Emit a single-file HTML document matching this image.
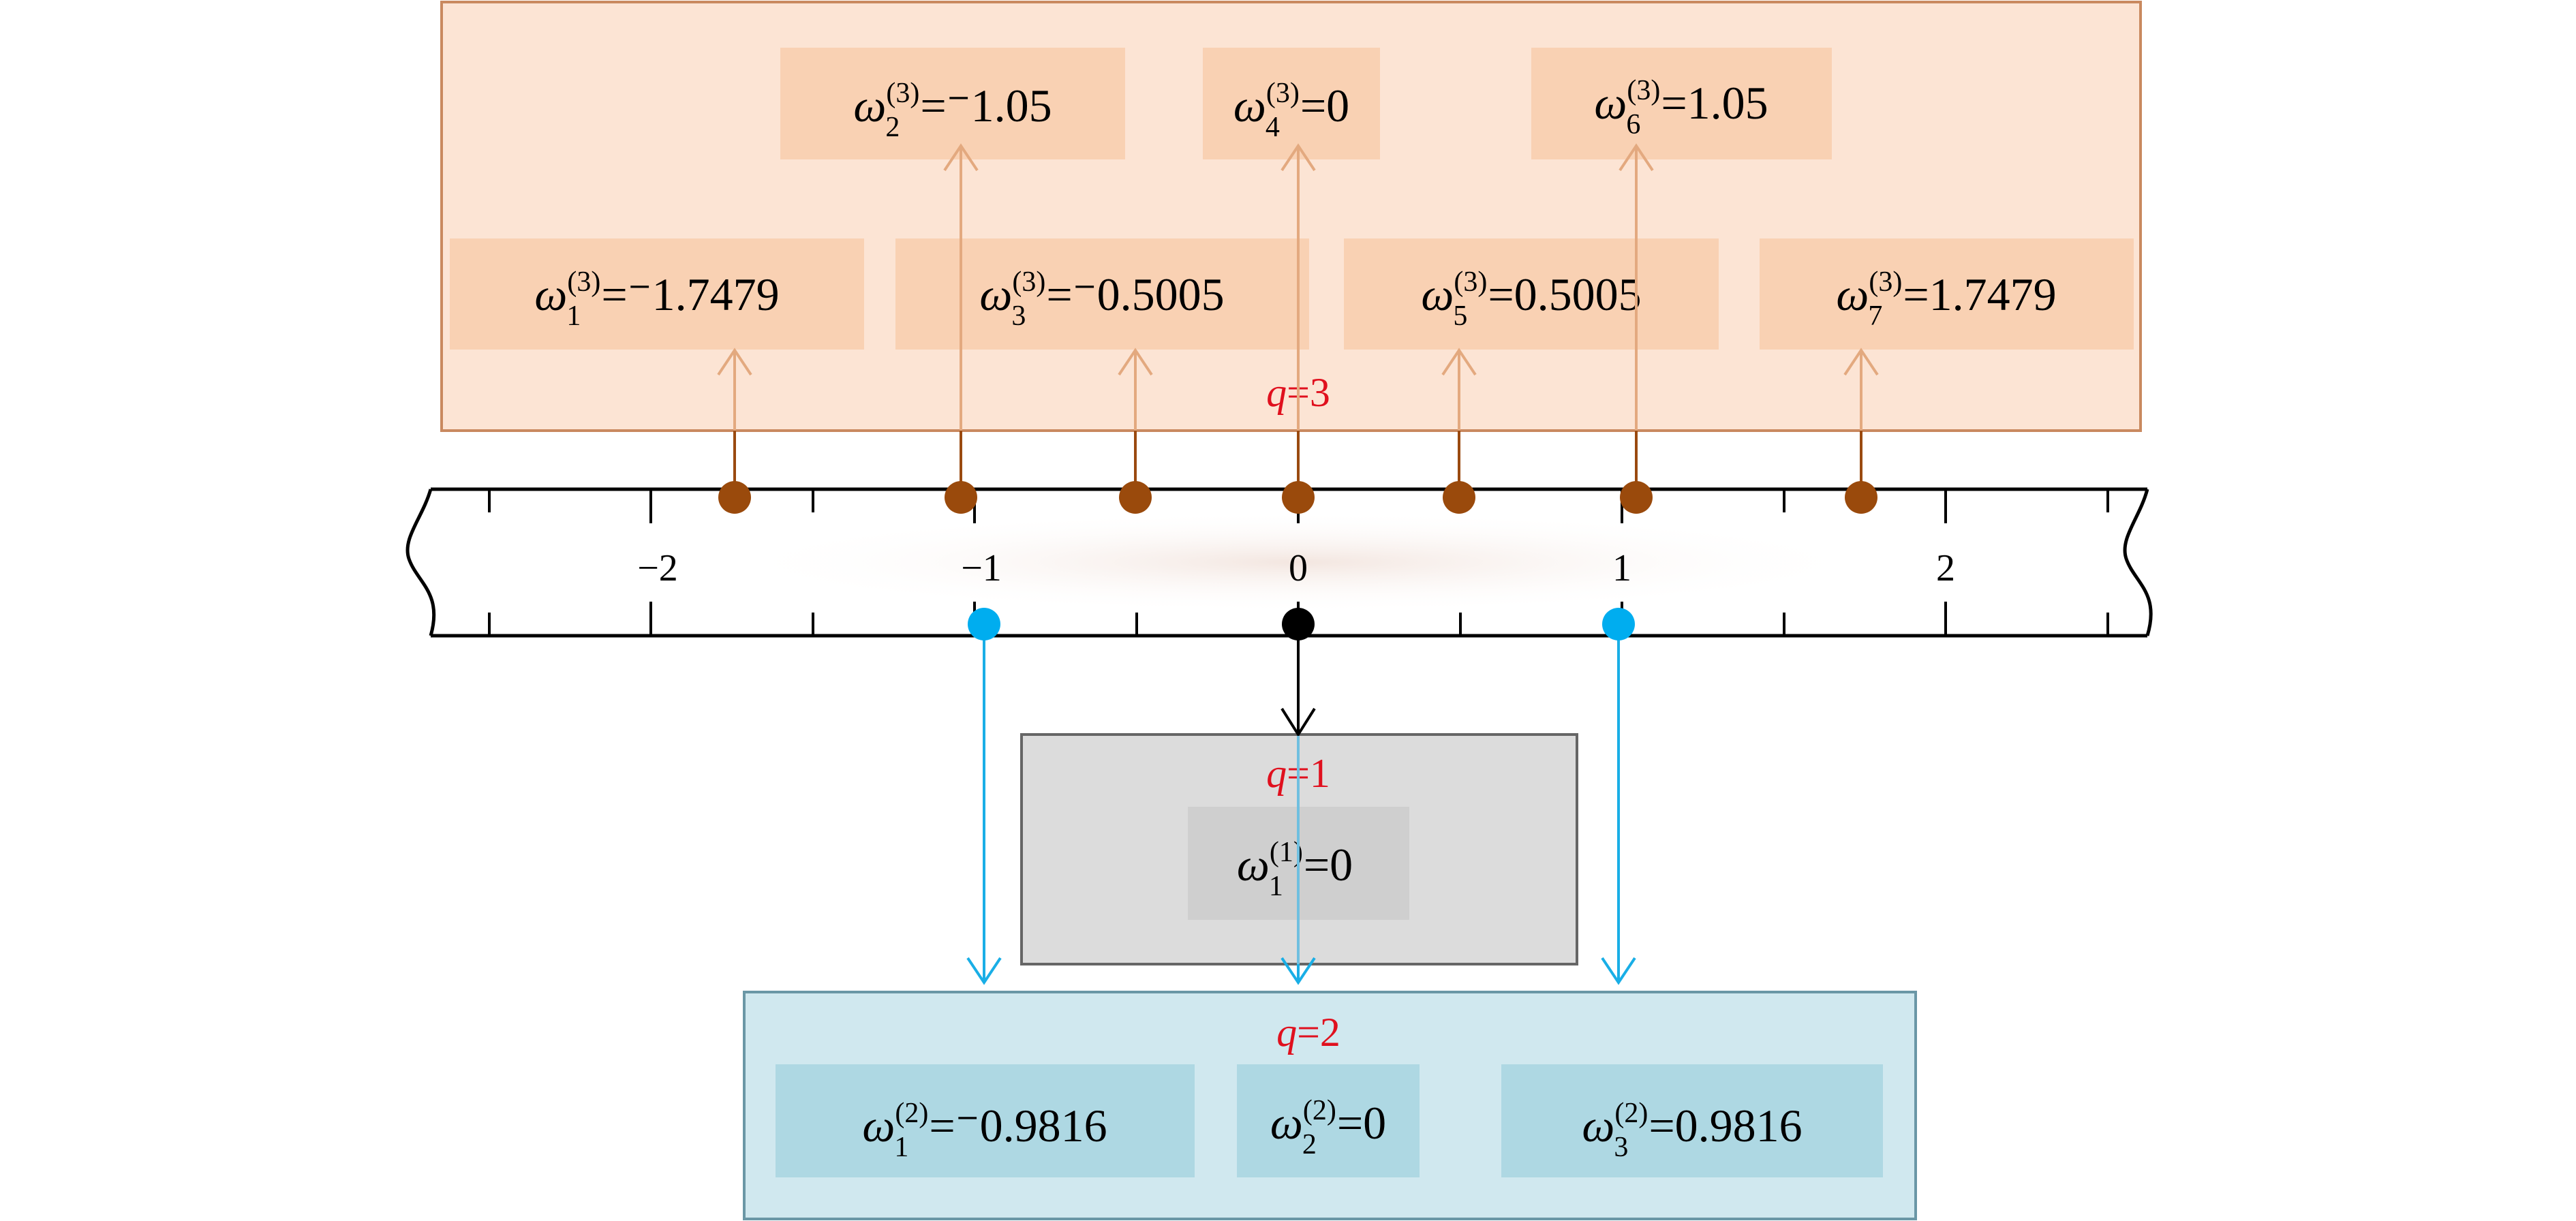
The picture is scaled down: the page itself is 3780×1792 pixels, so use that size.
<!DOCTYPE html>
<html><head><meta charset="utf-8"><style>html,body{margin:0;padding:0;background:#fff}svg{display:block}text{font-family:"Liberation Serif",serif}</style></head><body>
<svg width="3780" height="1792" viewBox="0 0 3780 1792" xmlns="http://www.w3.org/2000/svg">
<defs>
<radialGradient id="sh" cx="0.5" cy="0.5" r="0.5"><stop offset="0" stop-color="#f3e6e0"/><stop offset="1" stop-color="#fff" stop-opacity="0"/></radialGradient>
</defs>
<rect x="648" y="3" width="2493" height="629" fill="#fce4d4" stroke="#c9895f" stroke-width="4"/>
<g fill="#f9d1b3">
<rect x="1145" y="70" width="506" height="164"/><rect x="1765" y="70" width="260" height="164"/><rect x="2247" y="70" width="441" height="164"/>
<rect x="660" y="350" width="608" height="163"/><rect x="1314" y="350" width="607" height="163"/><rect x="1972" y="350" width="550" height="163"/><rect x="2582" y="350" width="549" height="163"/>
</g>
<g font-size="68" text-anchor="middle" fill="#000">
<text x="1398" y="178"><tspan font-style="italic">ω</tspan><tspan font-size="42" dy="-28">(3)</tspan><tspan font-size="42" dx="-50" dy="50">2</tspan><tspan dy="-22" dx="30">=⁻1.05</tspan></text>
<text x="1895" y="178"><tspan font-style="italic">ω</tspan><tspan font-size="42" dy="-28">(3)</tspan><tspan font-size="42" dx="-50" dy="50">4</tspan><tspan dy="-22" dx="30">=0</tspan></text>
<text x="2467" y="174"><tspan font-style="italic">ω</tspan><tspan font-size="42" dy="-28">(3)</tspan><tspan font-size="42" dx="-50" dy="50">6</tspan><tspan dy="-22" dx="30">=1.05</tspan></text>
<text x="964" y="455"><tspan font-style="italic">ω</tspan><tspan font-size="42" dy="-28">(3)</tspan><tspan font-size="42" dx="-50" dy="50">1</tspan><tspan dy="-22" dx="30">=⁻1.7479</tspan></text>
<text x="1617" y="455"><tspan font-style="italic">ω</tspan><tspan font-size="42" dy="-28">(3)</tspan><tspan font-size="42" dx="-50" dy="50">3</tspan><tspan dy="-22" dx="30">=⁻0.5005</tspan></text>
<text x="2247" y="455"><tspan font-style="italic">ω</tspan><tspan font-size="42" dy="-28">(3)</tspan><tspan font-size="42" dx="-50" dy="50">5</tspan><tspan dy="-22" dx="30">=0.5005</tspan></text>
<text x="2856" y="455"><tspan font-style="italic">ω</tspan><tspan font-size="42" dy="-28">(3)</tspan><tspan font-size="42" dx="-50" dy="50">7</tspan><tspan dy="-22" dx="30">=1.7479</tspan></text>
</g>
<text x="1905" y="596" font-size="60" fill="#e0101e" text-anchor="middle"><tspan font-style="italic">q</tspan>=3</text>
<g stroke="#9a4a10" stroke-width="4" fill="none">
<line x1="1078" y1="632" x2="1078" y2="730"/><line x1="1410" y1="632" x2="1410" y2="730"/><line x1="1666" y1="632" x2="1666" y2="730"/><line x1="1905" y1="632" x2="1905" y2="730"/><line x1="2141" y1="632" x2="2141" y2="730"/><line x1="2401" y1="632" x2="2401" y2="730"/><line x1="2731" y1="632" x2="2731" y2="730"/>
</g>
<g stroke="#e3a97f" stroke-width="4" fill="none">
<path d="M1078 632V514M1054 550L1078 514L1102 550"/>
<path d="M1666 632V514M1642 550L1666 514L1690 550"/>
<path d="M2141 632V514M2117 550L2141 514L2165 550"/>
<path d="M2731 632V514M2707 550L2731 514L2755 550"/>
<path d="M1410 632V216M1386 250L1410 214L1434 250"/>
<path d="M1905 632V216M1881 250L1905 214L1929 250"/>
<path d="M2401 632V216M2377 250L2401 214L2425 250"/>
</g>
<ellipse cx="1905" cy="825" rx="850" ry="75" fill="url(#sh)"/>
<g stroke="#000" stroke-width="5" fill="none">
<line x1="632" y1="718" x2="3151" y2="718"/><line x1="632" y1="933" x2="3151" y2="933"/>
<path d="M632 718 C620 760,590 790,600 820 C612 855,650 870,632 933"/>
<path d="M3151 718 C3140 760,3110 790,3120 820 C3132 855,3170 870,3151 933"/>
</g>
<g stroke="#000" stroke-width="4">
<path d="M955 718v50M1430 718v50M1905 718v50M2380 718v50M2855 718v50M955 933v-50M1430 933v-50M1905 933v-50M2380 933v-50M2855 933v-50"/>
<path d="M718 718v34M1193 718v34M1668 718v34M2143 718v34M2618 718v34M3093 718v34M718 933v-34M1193 933v-34M1668 933v-34M2143 933v-34M2618 933v-34M3093 933v-34"/>
</g>
<g font-size="56" text-anchor="middle">
<text x="965" y="852">−2</text><text x="1440" y="852">−1</text><text x="1905" y="852">0</text><text x="2380" y="852">1</text><text x="2855" y="852">2</text>
</g>
<g fill="#9a4a0c">
<circle cx="1078" cy="730" r="24"/><circle cx="1410" cy="730" r="24"/><circle cx="1666" cy="730" r="24"/><circle cx="1905" cy="730" r="24"/><circle cx="2141" cy="730" r="24"/><circle cx="2401" cy="730" r="24"/><circle cx="2731" cy="730" r="24"/>
</g>
<rect x="1499" y="1078" width="815" height="337" fill="#dcdcdc" stroke="#666" stroke-width="4"/>
<rect x="1743" y="1184" width="325" height="166" fill="#cfcfcf"/>
<text x="1905" y="1155" font-size="60" fill="#e0101e" text-anchor="middle"><tspan font-style="italic">q</tspan>=1</text>
<text x="1900" y="1292" font-size="68" text-anchor="middle"><tspan font-style="italic">ω</tspan><tspan font-size="42" dy="-28">(1)</tspan><tspan font-size="42" dx="-50" dy="50">1</tspan><tspan dy="-22" dx="30">=0</tspan></text>
<rect x="1092" y="1456" width="1719" height="333" fill="#d0e8ef" stroke="#6a97a6" stroke-width="4"/>
<g fill="#aed8e3"><rect x="1138" y="1562" width="615" height="166"/><rect x="1815" y="1562" width="268" height="166"/><rect x="2203" y="1562" width="560" height="166"/></g>
<text x="1920" y="1535" font-size="60" fill="#e0101e" text-anchor="middle"><tspan font-style="italic">q</tspan>=2</text>
<g font-size="68" text-anchor="middle">
<text x="1445" y="1675"><tspan font-style="italic">ω</tspan><tspan font-size="42" dy="-28">(2)</tspan><tspan font-size="42" dx="-50" dy="50">1</tspan><tspan dy="-22" dx="30">=⁻0.9816</tspan></text>
<text x="1949" y="1671"><tspan font-style="italic">ω</tspan><tspan font-size="42" dy="-28">(2)</tspan><tspan font-size="42" dx="-50" dy="50">2</tspan><tspan dy="-22" dx="30">=0</tspan></text>
<text x="2483" y="1675"><tspan font-style="italic">ω</tspan><tspan font-size="42" dy="-28">(2)</tspan><tspan font-size="42" dx="-50" dy="50">3</tspan><tspan dy="-22" dx="30">=0.9816</tspan></text>
</g>
<path d="M1905 916V1078M1881 1040L1905 1078L1929 1040" stroke="#000" stroke-width="4" fill="none"/>
<g stroke="#19aee6" stroke-width="4" fill="none">
<path d="M1444 916V1442M1420 1406L1444 1442L1468 1406"/>
<path d="M2375 916V1442M2351 1406L2375 1442L2399 1406"/>
<path d="M1881 1406L1905 1442L1929 1406M1905 1415V1442"/>
</g>
<line x1="1905" y1="1080" x2="1905" y2="1415" stroke="#6fbfe0" stroke-width="4"/>
<circle cx="1444" cy="916" r="24" fill="#00adef"/><circle cx="2375" cy="916" r="24" fill="#00adef"/><circle cx="1905" cy="916" r="24" fill="#000"/>
</svg>
</body></html>
